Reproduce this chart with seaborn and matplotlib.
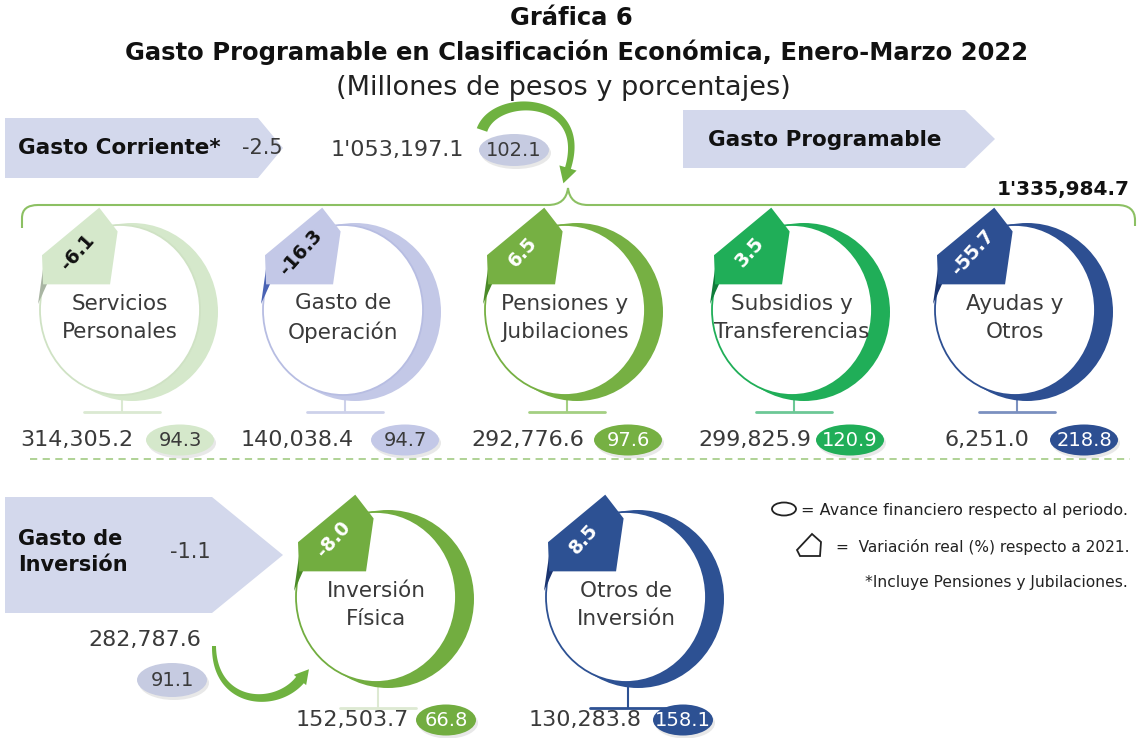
import numpy as np
import matplotlib
matplotlib.use("Agg")
import matplotlib.pyplot as plt
import seaborn as sns
from matplotlib.patches import Ellipse, Polygon
from matplotlib.path import Path
from matplotlib.patches import PathPatch

# ---------------- data ----------------
corriente_cats = ["Servicios\nPersonales", "Gasto de\nOperación", "Pensiones y\nJubilaciones",
                  "Subsidios y\nTransferencias", "Ayudas y\nOtros"]
corriente_montos = [314305.2, 140038.4, 292776.6, 299825.9, 6251.0]
corriente_avance = [94.3, 94.7, 97.6, 120.9, 218.8]
corriente_var = [-6.1, -16.3, 6.5, 3.5, -55.7]

inversion_cats = ["Inversión\nFísica", "Otros de\nInversión"]
inversion_montos = [152503.7, 130283.8]
inversion_avance = [66.8, 158.1]
inversion_var = [-8.0, 8.5]

total_corriente = 1053197.1
avance_corriente = 102.1
var_corriente = -2.5
total_inversion = 282787.6
avance_inversion = 91.1
var_inversion = -1.1
total_programable = 1335984.7

# ---------------- style ----------------
sns.set_theme(style="white")
plt.rcParams['font.family'] = ['DejaVu Sans']

W, H = 1143, 738
fig = plt.figure(figsize=(W / 100, H / 100), dpi=100)
ax = fig.add_axes([0, 0, 1, 1])
ax.set_xlim(0, W)
ax.set_ylim(H, 0)
ax.axis("off")

TXT = "#3a3a3a"
BANNER = "#d3d8ec"
ELL_GRAY = "#c6cbe1"
GREEN_LINE = "#8cc063"


def fmt(v):
    s = f"{v:,.1f}"
    parts = s.split(",")
    if len(parts) > 2:
        s = parts[0] + "'" + ",".join(parts[1:])
    return s


def pill(x, y, text, fc, tc, w=68, h=31, fs=14):
    ax.add_patch(Ellipse((x + 2, y + 3), w, h, fc="#d9d9d9", ec="none", alpha=0.6, zorder=2))
    ax.add_patch(Ellipse((x, y), w, h, fc=fc, ec="none", zorder=3))
    ax.text(x, y, text, ha="center", va="center", fontsize=fs, color=tc, zorder=4)


def curved_arrow(P, w0, w1, head_len, head_w, color):
    t = np.linspace(0, 1, 80)[:, None]
    P0, P1, P2, P3 = [np.array(p, float) for p in P]
    B = (1 - t) ** 3 * P0 + 3 * (1 - t) ** 2 * t * P1 + 3 * (1 - t) * t ** 2 * P2 + t ** 3 * P3
    d = 3 * (1 - t) ** 2 * (P1 - P0) + 6 * (1 - t) * t * (P2 - P1) + 3 * t ** 2 * (P3 - P2)
    n = np.stack([-d[:, 1], d[:, 0]], 1)
    n /= np.linalg.norm(n, axis=1, keepdims=True)
    w = (w0 + (w1 - w0) * t) / 2
    left = B + n * w
    right = B - n * w
    tang = d[-1] / np.linalg.norm(d[-1])
    nn = np.array([-tang[1], tang[0]])
    tip = P3 + tang * head_len
    head = np.array([P3 + nn * head_w / 2, tip, P3 - nn * head_w / 2])
    poly = np.vstack([left, head, right[::-1]])
    ax.add_patch(Polygon(poly, closed=True, fc=color, ec="none", zorder=5))


def banner(pts, zorder=1):
    ax.add_patch(Polygon(pts, closed=True, fc=BANNER, ec="none", zorder=zorder))


TAG_SHAPE = np.array([(-22, -99), (-5, -77), (-12, -28), (-74, -28), (-75, -55)], float)


def globe(cx, cy, label, monto, avance, var, main, outline, stand, fold, tagtxt,
          base_y, val_y, val_x, pill_x, pill_tc, pill_w=68):
    # crescent
    ax.add_patch(Ellipse((cx + 12, cy + 2), 172, 178, fc=main, ec="none", zorder=2))
    # white disc
    ax.add_patch(Ellipse((cx, cy), 160, 170, fc="white", ec=outline, lw=1.3, zorder=3))
    # stand
    ax.plot([cx + 2, cx + 2], [cy + 86, base_y], color=stand, lw=1.5, zorder=1)
    ax.plot([cx - 36, cx + 40], [base_y, base_y], color=stand, lw=2, zorder=1)
    # fold of tag
    ax.add_patch(Polygon([(cx - 75, cy - 55), (cx - 72, cy - 28), (cx - 82, cy - 6)],
                         closed=True, fc=fold, ec="none", zorder=4))
    # tag (slightly enlarged pentagon)
    c = TAG_SHAPE.mean(axis=0)
    pts = c + (TAG_SHAPE - c) * 1.08 + np.array([cx, cy])
    ax.add_patch(Polygon(pts, closed=True, fc=main, ec="none", zorder=5))
    ax.text(cx - 42, cy - 58, f"{var:.1f}", rotation=48, ha="center", va="center",
            fontsize=13.5, fontweight="bold", color=tagtxt, zorder=6)
    # label
    ax.text(cx, cy + 8, label, ha="center", va="center", fontsize=15.5,
            color=TXT, linespacing=1.5, zorder=6)
    # values
    ax.text(val_x, val_y, fmt(monto), ha="center", va="center", fontsize=16, color=TXT, zorder=6)
    pill(pill_x, val_y, f"{avance:.1f}", main, pill_tc, w=pill_w)


# ---------------- titles ----------------
ax.text(W / 2, 18, "Gráfica 6", ha="center", va="center", fontsize=17.5, fontweight="bold", color="#111")
ax.text(W / 2 + 5, 52, "Gasto Programable en Clasificación Económica, Enero-Marzo 2022",
        ha="center", va="center", fontsize=17.5, fontweight="bold", color="#111")
ax.text(W / 2 - 8, 88, "(Millones de pesos y porcentajes)", ha="center", va="center",
        fontsize=19.5, color="#222")

# ---------------- top banners ----------------
banner([(5, 118), (258, 118), (283, 148), (258, 178), (5, 178)])
ax.text(18, 148, "Gasto Corriente*", ha="left", va="center", fontsize=15.5, fontweight="bold", color="#111")
ax.text(262, 148, f"{var_corriente:.1f}", ha="center", va="center", fontsize=15, color=TXT)
ax.text(397, 150, fmt(total_corriente), ha="center", va="center", fontsize=16, color=TXT)
pill(514, 150, f"{avance_corriente:.1f}", ELL_GRAY, TXT, w=70, h=32)

banner([(683, 110), (965, 110), (995, 139), (965, 168), (683, 168)])
ax.text(825, 140, "Gasto Programable", ha="center", va="center", fontsize=15.5, fontweight="bold", color="#111")
ax.text(1130, 190, fmt(total_programable), ha="right", va="center", fontsize=14.5,
        fontweight="bold", color="#111")

curved_arrow([(482, 130), (495, 92), (590, 95), (568, 168)], 11, 6, 16, 18, "#6fb240")

# bracket
verts = [(22, 228), (22, 218), (22, 205), (38, 205), (548, 205), (566, 205), (568, 188),
         (570, 205), (588, 205), (1117, 205), (1135, 205), (1135, 220), (1135, 226)]
codes = [Path.MOVETO, Path.LINETO, Path.CURVE3, Path.CURVE3, Path.LINETO, Path.CURVE3, Path.CURVE3,
         Path.CURVE3, Path.CURVE3, Path.LINETO, Path.CURVE3, Path.CURVE3, Path.LINETO]
ax.add_patch(PathPatch(Path(verts, codes), fc="none", ec=GREEN_LINE, lw=1.5, zorder=1))

# ---------------- row 1 ----------------
row1_cx = [120, 343, 565, 792, 1015]
row1_valx = [77, 297, 528, 755, 987]
row1_pillx = [180, 405, 628, 850, 1084]
mains = ["#d5e8cb", "#c3c8e7", "#76b043", "#20ae58", "#2d4f92"]
outlines = ["#cfe2c4", "#b7bde2", "#76b043", "#20ae58", "#2d4f92"]
stands = ["#dbe9d2", "#cdd1ea", "#a4cf82", "#6cc896", "#7b90c0"]
folds = ["#a9b5a3", "#4a63b4", "#4a8a28", "#0f7c3a", "#1a3470"]
tagtxt = ["#111", "#111", "white", "white", "white"]
pilltc = [TXT, TXT, "white", "white", "white"]
for i in range(len(corriente_cats)):
    globe(row1_cx[i], 310, corriente_cats[i], corriente_montos[i], corriente_avance[i],
          corriente_var[i], mains[i], outlines[i], stands[i], folds[i], tagtxt[i],
          412, 440, row1_valx[i], row1_pillx[i], pilltc[i])

# dashed separator
ax.plot([30, 1130], [459, 459], color="#a9cf8c", lw=1.3, ls=(0, (4, 3)), zorder=1)

# ---------------- row 2 ----------------
banner([(5, 497), (212, 497), (283, 555), (212, 613), (5, 613)])
ax.text(18, 552, "Gasto de\nInversión", ha="left", va="center", fontsize=15, fontweight="bold",
        color="#111", linespacing=1.35)
ax.text(190, 552, f"{var_inversion:.1f}", ha="center", va="center", fontsize=15, color=TXT)
ax.text(145, 640, fmt(total_inversion), ha="center", va="center", fontsize=16, color=TXT)
pill(172, 680, f"{avance_inversion:.1f}", ELL_GRAY, TXT, w=70, h=34)
curved_arrow([(214, 646), (214, 705), (275, 710), (300, 680)], 4, 10, 14, 16, "#6fb240")

row2_cx = [376, 626]
row2_valx = [352, 585]
row2_pillx = [446, 683]
mains2 = ["#72ad40", "#2d5193"]
stands2 = ["#dde9d2", "#2d5193"]
folds2 = ["#4a8a28", "#1a3470"]
for i in range(len(inversion_cats)):
    globe(row2_cx[i], 597, inversion_cats[i], inversion_montos[i], inversion_avance[i],
          inversion_var[i], mains2[i], mains2[i], stands2[i], folds2[i], "white",
          708, 720, row2_valx[i], row2_pillx[i], "white", pill_w=60)

# ---------------- legend ----------------
ax.add_patch(Ellipse((784, 509), 24, 13, fc="white", ec="#222", lw=1.3, zorder=3))
ax.text(801, 510, "= Avance financiero respecto al periodo.", ha="left", va="center",
        fontsize=11.5, color="#222")
ax.add_patch(Polygon([(812, 534), (821, 542), (820, 556), (800, 556), (797, 550)], closed=True,
                     fc="white", ec="#222", lw=1.3, zorder=3))
ax.text(836, 547, "=  Variación real (%) respecto a 2021.", ha="left", va="center",
        fontsize=11.1, color="#222")
ax.text(865, 583, "*Incluye Pensiones y Jubilaciones.", ha="left", va="center",
        fontsize=11.2, color="#222")

fig.savefig("out.png", dpi=100)
